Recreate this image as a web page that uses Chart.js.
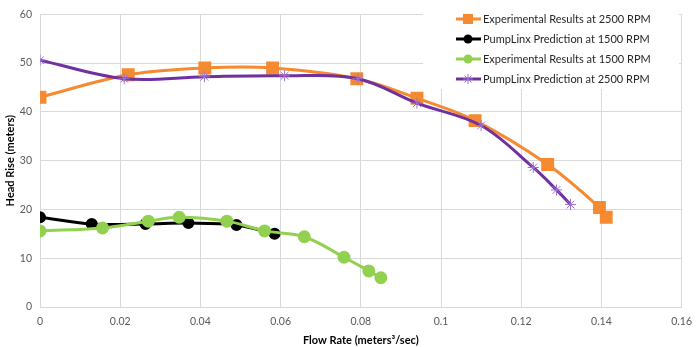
<!DOCTYPE html>
<html>
<head>
<meta charset="utf-8">
<script src="https://cdn.jsdelivr.net/npm/chart.js@4.4.0/dist/chart.umd.min.js"></script>
<style>
  html, body { margin: 0; padding: 0; background: #fff; }
  #wrap { width: 700px; height: 347px; position: relative; }
</style>
</head>
<body>
<div id="wrap"><canvas id="myChart"></canvas></div>
<script>
// flow rate (m3/s) and head rise (m)
var exp2500X = [0, 0.022, 0.0411, 0.058, 0.079, 0.094, 0.1085, 0.1266, 0.1395, 0.1412];
var exp2500Y = [43, 47.6, 49, 49, 46.8, 42.8, 38.2, 29.2, 20.4, 18.4];

var pl1500X = [0, 0.0129, 0.0263, 0.037, 0.049, 0.0585];
var pl1500Y = [18.4, 17, 17, 17.2, 16.8, 15];

var exp1500X = [0, 0.0156, 0.027, 0.0347, 0.0466, 0.056, 0.0659, 0.0758, 0.082, 0.085];
var exp1500Y = [15.6, 16.2, 17.6, 18.4, 17.6, 15.6, 14.4, 10.2, 7.4, 6.0];

var pl2500X = [0, 0.021, 0.041, 0.061, 0.0793, 0.094, 0.110, 0.123, 0.1288, 0.1323];
var pl2500Y = [50.6, 46.8, 47.2, 47.4, 46.8, 41.8, 37.2, 28.6, 24, 21];

var xTicks = [0, 0.02, 0.04, 0.06, 0.08, 0.1, 0.12, 0.14, 0.16];
var yTicks = [0, 10, 20, 30, 40, 50, 60];

var seriesNames = [
  'Experimental Results at 2500 RPM',
  'PumpLinx Prediction at 1500 RPM',
  'Experimental Results at 1500 RPM',
  'PumpLinx Prediction at 2500 RPM'
];

function pts(xs, ys) {
  return xs.map(function(x, i) { return { x: x, y: ys[i] }; });
}

var FONT = 'Lato, "Open Sans", sans-serif';

var datasets = [
  {
    label: seriesNames[0], data: pts(exp2500X, exp2500Y),
    borderColor: '#f58a30', backgroundColor: '#f58a30',
    pointStyle: 'rect', pointRadius: 7, borderWidth: 3, order: 3
  },
  {
    label: seriesNames[1], data: pts(pl1500X, pl1500Y),
    borderColor: '#000000', backgroundColor: '#000000',
    pointStyle: 'circle', pointRadius: 4.5, borderWidth: 3, order: 4
  },
  {
    label: seriesNames[2], data: pts(exp1500X, exp1500Y),
    borderColor: '#92d050', backgroundColor: '#92d050',
    pointStyle: 'circle', pointRadius: 5, borderWidth: 3, order: 2
  },
  {
    label: seriesNames[3], data: pts(pl2500X, pl2500Y),
    borderColor: '#7030a0', backgroundColor: '#7030a0',
    pointStyle: 'star', pointRadius: 5.5, pointBorderWidth: 1,
    pointBorderColor: '#9b6fd3', borderWidth: 3, order: 1
  }
];

// legend drawn inside the plot, with a line + marker sample like the original
var insideLegend = {
  id: 'insideLegend',
  afterDraw: function(chart) {
    var c = chart.ctx;
    c.save();
    c.fillStyle = '#ffffff';
    c.fillRect(423, 8, 256, 81);
    var rowY = [19, 39, 59, 79];
    chart.data.datasets.forEach(function(ds, i) {
      var y = rowY[i];
      c.strokeStyle = ds.borderColor;
      c.lineWidth = 3;
      c.beginPath();
      c.moveTo(456, y);
      c.lineTo(481, y);
      c.stroke();
      c.fillStyle = ds.backgroundColor;
      c.strokeStyle = ds.pointBorderColor || ds.borderColor;
      c.lineWidth = 1;
      if (ds.pointStyle === 'rect') {
        c.fillRect(463, y - 5, 10, 10);
      } else if (ds.pointStyle === 'circle') {
        c.beginPath();
        c.arc(468, y, 4.5, 0, Math.PI * 2);
        c.fill();
      } else {
        Chart.helpers.drawPoint(c, { pointStyle: 'star', radius: 5, borderWidth: 1 }, 468, y);
      }
      c.fillStyle = '#262626';
      c.font = '11px ' + FONT;
      c.textBaseline = 'middle';
      c.textAlign = 'left';
      c.fillText(ds.label, 483, y);
    });
    c.restore();
  }
};

var ctx = document.getElementById('myChart');
var HeadChart = new Chart(ctx, {
  type: 'scatter',
  data: { datasets: datasets },
  options: {
    responsive: true,
    maintainAspectRatio: false,
    animation: false,
    showLine: true,
    elements: {
      line: { tension: 0.35, fill: false }
    },
    layout: { padding: { top: 7, right: 14, left: 0, bottom: 0 } },
    plugins: {
      legend: { display: false },
      tooltip: { enabled: false }
    },
    scales: {
      x: {
        type: 'linear',
        min: 0, max: 0.16,
        afterBuildTicks: function(scale) {
          scale.ticks = xTicks.map(function(v) { return { value: v }; });
        },
        ticks: {
          color: '#595959', font: { family: FONT, size: 10.5 }, padding: 8,
          callback: function(v) { return String(+v.toFixed(2)); }
        },
        grid: { color: '#d9d9d9', drawTicks: false },
        border: { color: '#d9d9d9' },
        title: {
          display: true, text: 'Flow Rate (meters\u00b3/sec)', color: '#000',
          font: { family: FONT, size: 11, weight: 'bold' }, padding: { top: 2, bottom: 0 }
        },
        afterFit: function(scale) { scale.height = 40; }
      },
      y: {
        type: 'linear',
        min: 0, max: 60,
        afterBuildTicks: function(scale) {
          scale.ticks = yTicks.map(function(v) { return { value: v }; });
        },
        ticks: {
          color: '#595959', font: { family: FONT, size: 10.5 }, padding: 8
        },
        grid: { color: '#d9d9d9', drawTicks: false },
        border: { color: '#d9d9d9' },
        title: {
          display: true, text: 'Head Rise (meters)', color: '#000',
          font: { family: FONT, size: 11, weight: 'bold' }, padding: { top: 4, bottom: 0 }
        },
        afterFit: function(scale) { scale.width = 40; }
      }
    }
  },
  plugins: [insideLegend]
});
</script>
</body>
</html>
